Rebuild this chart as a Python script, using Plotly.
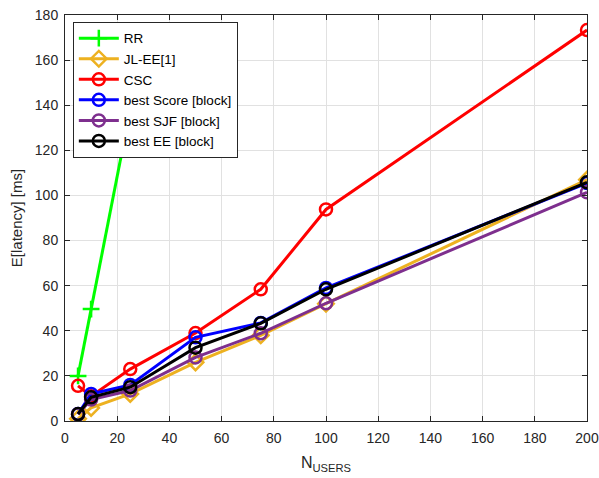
import plotly.graph_objects as go

x_users = [5, 10, 25, 50, 75, 100, 200]
x_rr = [5, 10, 25]
rr = [20.0, 49.6, 138.0]
jl_ee = [1.0, 5.8, 12.0, 26.0, 38.0, 52.0, 107.0]
csc = [15.6, 11.0, 23.0, 39.0, 58.4, 93.8, 173.3]
best_score = [3.1, 12.0, 16.0, 37.1, 43.5, 59.0, 105.5]
best_sjf = [3.0, 9.5, 13.5, 28.2, 38.9, 52.2, 101.4]
best_ee = [3.1, 10.5, 15.0, 32.5, 43.3, 58.4, 105.8]

series = [
    ("RR", x_rr, rr, "#00FF00", "cross-thin-open"),
    ("JL-EE[1]", x_users, jl_ee, "#EDB120", "diamond-open"),
    ("CSC", x_users, csc, "#FF0000", "circle-open"),
    ("best Score [block]", x_users, best_score, "#0000FF", "circle-open"),
    ("best SJF [block]", x_users, best_sjf, "#7E2F8E", "circle-open"),
    ("best EE [block]", x_users, best_ee, "#000000", "circle-open"),
]

fig = go.Figure()
for name, xs, ys, col, sym in series:
    fig.add_trace(go.Scatter(
        x=xs, y=ys, name=name, mode="lines+markers",
        line=dict(color=col, width=3),
        marker=dict(symbol=sym, size=12, color=col, line=dict(color=col, width=2.5)),
        cliponaxis=True,
    ))

axis_common = dict(
    showgrid=True, gridcolor="#E1E1E1", gridwidth=1,
    showline=True, linecolor="#262626", linewidth=1, mirror="ticks",
    ticks="inside", ticklen=5, tickcolor="#262626",
    zeroline=False, automargin=False,
    tickfont=dict(family="Liberation Sans, Arial", size=14, color="#262626"),
)

fig.update_xaxes(range=[0, 200], dtick=20, tick0=0, ticklabelstandoff=4,
                 title=dict(text="N<sub>USERS</sub>", standoff=12,
                            font=dict(family="Liberation Sans, Arial", size=16, color="#262626")),
                 **axis_common)
fig.update_yaxes(range=[0, 180], dtick=20, tick0=0, ticklabelstandoff=3,
                 title=dict(text="E[latency] [ms]", standoff=8,
                            font=dict(family="Liberation Sans, Arial", size=15, color="#262626")),
                 **axis_common)

fig.update_layout(
    width=599, height=478,
    margin=dict(l=65, r=12, t=15, b=57),
    paper_bgcolor="white", plot_bgcolor="white",
    font=dict(family="Liberation Sans, Arial", color="#262626"),
    legend=dict(x=0.015, y=0.983, xanchor="left", yanchor="top",
                bgcolor="white", bordercolor="#262626", borderwidth=1,
                font=dict(family="Liberation Sans, Arial", size=13.5, color="#000000"),
                tracegroupgap=0, itemwidth=40),
    showlegend=True,
)

fig.write_html(
    "out.html",
    config={"displayModeBar": False},
    post_script="document.body.style.margin='0';document.body.style.overflow='hidden';",
)
